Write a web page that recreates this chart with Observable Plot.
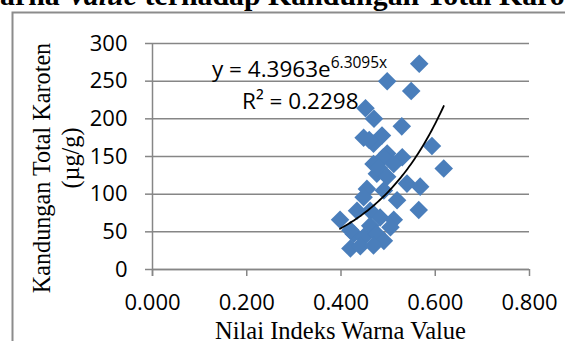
<!DOCTYPE html>
<html>
<head>
<meta charset="utf-8">
<script src="https://cdn.jsdelivr.net/npm/d3@7"></script>
<script src="https://cdn.jsdelivr.net/npm/@observablehq/plot@0.6"></script>
<style>
html,body{margin:0;padding:0;background:#fff;overflow:hidden;width:565px;height:341px}
#wrap{position:relative;width:565px;height:341px;overflow:hidden}
</style>
</head>
<body>
<div id="wrap"></div>
<script>
// Nilai Indeks Warna Value (x) vs Kandungan Total Karoten (y)
const xValues = [0.566,0.498,0.549,0.452,0.470,0.529,0.448,0.487,0.469,0.460,0.593,0.498,0.530,0.490,0.512,0.469,0.618,0.476,0.480,0.498,0.540,0.568,0.455,0.491,0.448,0.519,0.565,0.434,0.462,0.398,0.483,0.512,0.462,0.505,0.427,0.448,0.476,0.491,0.420,0.441,0.469,0.420];
const yValues = [273,250,237,214,200,190,175,178,167,172,164,154,149,149,140,140,134,127,135,123,114,110,107,105,96,92,79,78,78,66,69,66,58,56,47,43,47,38,28,31,32,52];
const trendCoefficients = [4.3963, 6.3095]; // y = a * e^(b x)
const xTicks = [0, 0.2, 0.4, 0.6, 0.8];
const yTicks = [0, 50, 100, 150, 200, 250, 300];
const titlePrefix = "Hubungan Nilai Indeks W";
const titleParts = ["arna ", "Value", " terhadap Kandungan Total Karoten"];
const xLabel = "Nilai Indeks Warna Value";
const yLabelLines = ["Kandungan Total Karoten", "(µg/g)"];
const equationMain = "y = 4.3963e";
const equationSup = "6.3095x";
const rSquared = "R² = 0.2298";

const data = xValues.map((x, i) => ({x, y: yValues[i]}));
const [ta, tb] = trendCoefficients;
const xmin = d3.min(xValues), xmax = d3.max(xValues);
const trend = d3.range(0, 61).map(i => {
  const x = xmin + (xmax - xmin) * i / 60;
  return {x, y: ta * Math.exp(tb * x)};
});

const grey = "#868686";
const sans = "'Open Sans', Lato, sans-serif";
const chart = Plot.plot({
  width: 565, height: 341,
  marginLeft: 152, marginRight: 36, marginTop: 43, marginBottom: 72,
  style: {fontFamily: sans, fontSize: "22px", color: "#000", background: "transparent", overflow: "visible"},
  x: {domain: [0, 0.8]},
  y: {domain: [0, 300]},
  marks: [
    Plot.gridY(yTicks, {stroke: grey, strokeOpacity: 1, strokeWidth: 1.5}),
    Plot.ruleY([0], {stroke: grey, strokeWidth: 1.5}),
    Plot.ruleX([0], {stroke: grey, strokeWidth: 1.5, insetBottom: -7}),
    Plot.axisX({ticks: xTicks, tickSize: 7, tickPadding: 18, stroke: grey, strokeWidth: 1.5, strokeOpacity: 1, label: null, tickFormat: d3.format(".3f")}),
    Plot.axisY({ticks: yTicks, tickSize: 7, tickPadding: 18, stroke: grey, strokeWidth: 1.5, strokeOpacity: 1, label: null}),
    Plot.dot(data, {x: "x", y: "y", symbol: "square", r: 7.4, rotate: 45, fill: "#4a7ebb", stroke: "none"}),
    Plot.line(trend, {x: "x", y: "y", stroke: "#000", strokeWidth: 1.8})
  ]
});
document.getElementById("wrap").appendChild(chart);

const svg = d3.select(chart);
// frame
svg.append("path").attr("d", "M12.5,341V12.5H565").attr("fill", "none").attr("stroke", "#8c8c8c").attr("stroke-width", 2);
// title (clipped at the top and sides): size it so "arna … Karo" spans the picture width
const tfont = "'Liberation Serif','Times New Roman',serif";
const probe = svg.append("text").attr("x", 0).attr("y", -100).attr("font-family", tfont).attr("font-weight", "bold").attr("font-size", 30);
probe.append("tspan").text(titleParts[0]);
probe.append("tspan").attr("font-style", "italic").text(titleParts[1]);
probe.append("tspan").text(titleParts[2].replace(/ten$/, ""));
const titleSize = 30 * 565 / probe.node().getComputedTextLength();
probe.remove();
svg.append("text").attr("x", 0).attr("y", 5).attr("text-anchor", "end")
  .attr("font-family", tfont).attr("font-weight", "bold").attr("font-size", titleSize).text(titlePrefix);
const t = svg.append("text").attr("x", 0).attr("y", 5).attr("text-anchor", "start")
  .attr("font-family", tfont).attr("font-weight", "bold").attr("font-size", titleSize);
t.append("tspan").text(titleParts[0]);
t.append("tspan").attr("font-style", "italic").text(titleParts[1]);
t.append("tspan").text(titleParts[2]);
// axis titles
svg.append("text").attr("x", 340.5).attr("y", 339).attr("text-anchor", "middle")
  .attr("font-family", tfont).attr("font-size", 24.5).text(xLabel);
svg.append("text").attr("transform", "translate(50,168) rotate(-90)").attr("text-anchor", "middle")
  .attr("font-family", tfont).attr("font-size", 24.2).text(yLabelLines[0]);
svg.append("text").attr("transform", "translate(79,158) rotate(-90)").attr("text-anchor", "middle")
  .attr("font-family", tfont).attr("font-size", 24.2).text(yLabelLines[1]);
// trendline equation
const eq = svg.append("text").attr("x", 212).attr("y", 77).attr("text-anchor", "start")
  .attr("font-family", sans).attr("font-size", 22.5);
eq.append("tspan").text(equationMain);
eq.append("tspan").attr("dy", -9).attr("font-size", 15.5).text(equationSup);
svg.append("text").attr("x", 242).attr("y", 109).attr("text-anchor", "start")
  .attr("font-family", sans).attr("font-size", 22.5).text(rSquared);
</script>
</body>
</html>
